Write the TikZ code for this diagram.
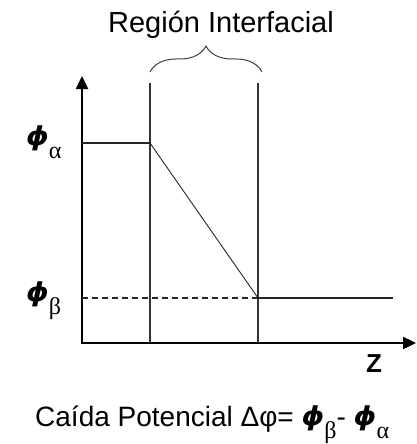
\documentclass[tikz,border=0pt]{standalone}
\usepackage{fontspec}
\setmainfont{Liberation Sans}
\newfontfamily\grsub{Liberation Serif}
\newfontfamily\phifont{DejaVu Sans}
\usetikzlibrary{arrows.meta,decorations.pathreplacing}

% phi grande en negrita y subindice griego
\newcommand{\bphi}{\raisebox{1pt}{\scalebox{1.1}[1]{\fontsize{26}{26}\phifont\bfseries\itshape ϕ}}}
\newcommand{\gsub}[1]{\raisebox{-12pt}{\fontsize{24}{24}\grsub #1}}

\begin{document}
\begin{tikzpicture}[
    x=1pt, y=-1pt,
    axis/.style={line width=2.4pt, {Triangle[length=13pt,width=12pt]}-{Triangle[length=13pt,width=12pt]}},
    wall/.style={line width=1.3pt, draw=black!80},
    level/.style={line width=1.1pt, draw=black!85},
    ramp/.style={line width=0.9pt, draw=black!85},
    lbl/.style={inner sep=0pt},
]
\useasboundingbox (0,0) rectangle (417,444);

% ---- niveles ----
\def\PhiA{143}
\def\PhiB{298}
\def\WallL{150}
\def\WallR{258}

% ---- ejes ----
\coordinate (O)    at (82,343);
\coordinate (ytop) at (82,76);
\coordinate (xend) at (416,343);
\draw[axis] (ytop) -- (O) -- (xend);

% ---- region interfacial ----
\coordinate (wlt) at (\WallL,83);
\coordinate (wlb) at (\WallL,343);
\coordinate (wrt) at (\WallR,83);
\coordinate (wrb) at (\WallR,343);
\draw[wall] (wlt) -- (wlb);
\draw[wall] (wrt) -- (wrb);

% ---- potencial ----
\coordinate (pa)   at (82,\PhiA);
\coordinate (ka)   at (\WallL,\PhiA);
\coordinate (pb)   at (82,\PhiB);
\coordinate (kb)   at (\WallR,\PhiB);
\coordinate (bend) at (393,\PhiB);
\draw[level] (pa) -- (ka);
\draw[ramp]  (ka) -- (kb);
\draw[level] (kb) -- (bend);
\draw[level, dash pattern=on 6pt off 4pt] (pb) -- (kb);

% ---- llave ----
\coordinate (brl) at (150,72);
\coordinate (brr) at (262,72);
\draw[decorate, decoration={brace, amplitude=26pt}, line width=1pt, draw=black!75] (brl) -- (brr);

% ===== etiquetas =====
\node[lbl, anchor=base, font=\fontsize{29}{31}\selectfont] (titulo) at (221,33) {Región Interfacial};
\node[lbl, anchor=base west] (phia) at (26,146) {\bphi\gsub{α}};
\node[lbl, anchor=base west] (phib) at (26,302) {\bphi\gsub{β}};
\node[lbl, anchor=base, font=\fontsize{26}{28}\selectfont\bfseries] (zlab) at (374,372) {Z};
\node[lbl, anchor=base west, font=\fontsize{28}{30}\selectfont] (caida) at (35,426)
    {Caída Potencial Δφ= \bphi\gsub{β}- \bphi\gsub{α}};

\end{tikzpicture}
\end{document}
